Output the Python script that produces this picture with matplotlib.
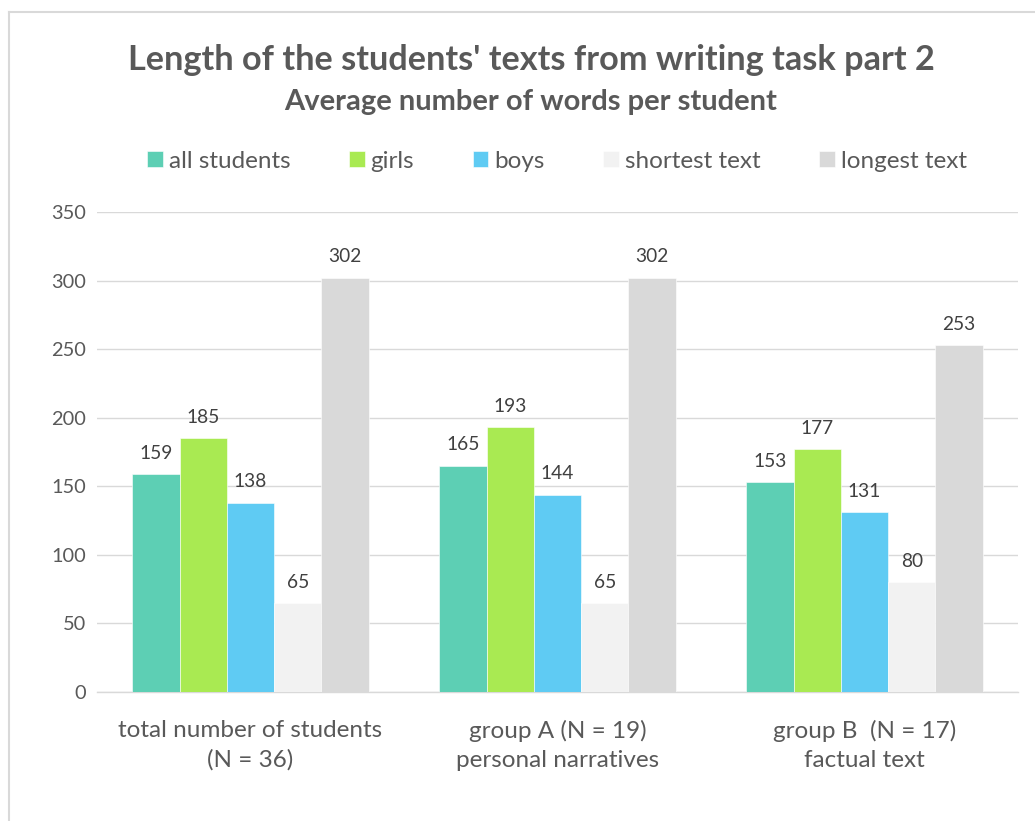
import matplotlib
matplotlib.use("Agg")
import matplotlib.pyplot as plt
from matplotlib.lines import Line2D
import numpy as np

plt.rcParams['font.family'] = ['Lato', 'DejaVu Sans']

categories = ["total number of students\n(N = 36)",
              "group A (N = 19)\npersonal narratives",
              "group B  (N = 17)\nfactual text"]
series_names = ["all students", "girls", "boys", "shortest text", "longest text"]
all_students = [159, 165, 153]
girls = [185, 193, 177]
boys = [138, 144, 131]
shortest = [65, 65, 80]
longest = [302, 302, 253]
series = [all_students, girls, boys, shortest, longest]
colors = ["#5DCFB4", "#A9EA52", "#5FCBF3", "#F2F2F2", "#D9D9D9"]
yticks = [0, 50, 100, 150, 200, 250, 300, 350]

TXT = "#595959"
fig = plt.figure(figsize=(10.35, 8.21), dpi=100)
ax = fig.add_axes([97/1035, 1-692/821, 921/1035, 480/821])

x = np.arange(len(categories))
w = 0.154
for i, (vals, c, name) in enumerate(zip(series, colors, series_names)):
    pos = x + (i - 2) * w
    ax.bar(pos, vals, width=w, color=c, label=name, zorder=3,
           edgecolor="white", linewidth=0.4)
    for p, v in zip(pos, vals):
        ax.text(p, v + 9, str(v), ha="center", va="bottom",
                fontsize=13.8, color="#404040")

ax.set_xlim(-0.5, 2.5)
ax.set_ylim(0, 350)
ax.set_yticks(yticks)
ax.set_yticklabels([str(t) for t in yticks], fontsize=14.4, color=TXT)
ax.set_xticks(x)
ax.set_xticklabels(categories, fontsize=17.5, color=TXT, linespacing=1.45)
ax.tick_params(axis="both", length=0)
ax.tick_params(axis="y", pad=8)
ax.tick_params(axis="x", pad=20)
ax.grid(axis="y", color="#D9D9D9", linewidth=1, zorder=0)
for s in ["top", "right", "left"]:
    ax.spines[s].set_visible(False)
ax.spines["bottom"].set_color("#D9D9D9")
ax.spines["bottom"].set_linewidth(1)

fig.text(531/1035, 1-60/821, "Length of the students' texts from writing task part 2",
         ha="center", va="center", fontsize=24.7, fontweight="bold", color=TXT)
fig.text(531/1035, 1-102/821, "Average number of words per student",
         ha="center", va="center", fontsize=21, fontweight="bold", color=TXT)

leg = fig.legend(loc="center", bbox_to_anchor=(557/1035, 1-161/821), ncol=5,
                 frameon=False, fontsize=17.5, handlelength=0.65, handleheight=0.65,
                 handletextpad=0.25, columnspacing=2.4, labelcolor=TXT)

# chart border (open at right/bottom as in the cropped reference)
fig.add_artist(Line2D([9/1035, 9/1035], [0, 1-12/821], transform=fig.transFigure,
                      color="#D9D9D9", linewidth=1.5))
fig.add_artist(Line2D([9/1035, 1], [1-12/821, 1-12/821], transform=fig.transFigure,
                      color="#D9D9D9", linewidth=1.5))

fig.savefig("out.png", dpi=100)
